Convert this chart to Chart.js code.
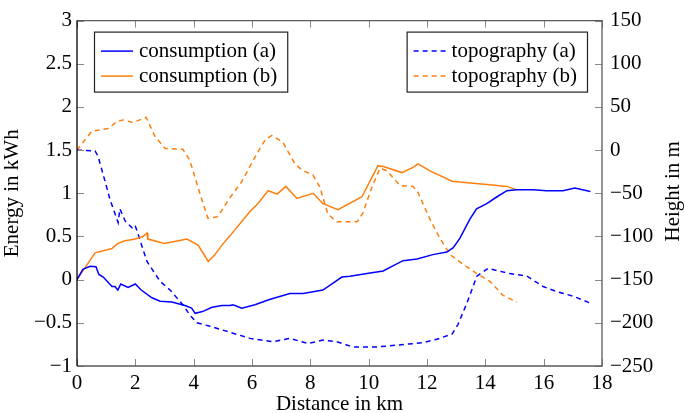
<!DOCTYPE html>
<html>
<head>
<meta charset="utf-8">
<script src="https://cdn.jsdelivr.net/npm/chart.js@4/dist/chart.umd.min.js"></script>
<style>
  html, body { margin: 0; padding: 0; background: #fff; }
  #wrap { width: 685px; height: 413px; }
</style>
</head>
<body>
<div id="wrap"><canvas id="c" width="685" height="413"></canvas></div>
<script>
// ---- data (distance in km, energy in kWh, height in m) ----
const consAX = [0, 0.2, 0.45, 0.65, 0.75, 0.9, 1.2, 1.3, 1.4, 1.5, 1.75, 2.0, 2.2, 2.57, 2.85, 3.25, 3.7, 3.93, 4.05, 4.3, 4.63, 4.97, 5.25, 5.35, 5.65, 6.1, 6.6, 7.3, 7.75, 8.43, 8.78, 9.08, 9.36, 9.94, 10.5, 10.83, 11.18, 11.66, 12.2, 12.68, 12.9, 13.13, 13.47, 13.7, 14.05, 14.4, 14.74, 15.08, 15.63, 16.1, 16.66, 17.07, 17.6];
const consAY = [0, 0.12, 0.155, 0.15, 0.06, 0.03, -0.08, -0.08, -0.12, -0.05, -0.09, -0.05, -0.12, -0.21, -0.25, -0.26, -0.30, -0.33, -0.39, -0.37, -0.32, -0.30, -0.30, -0.29, -0.33, -0.29, -0.23, -0.16, -0.16, -0.12, -0.04, 0.03, 0.04, 0.07, 0.10, 0.16, 0.22, 0.24, 0.29, 0.32, 0.37, 0.48, 0.70, 0.82, 0.88, 0.96, 1.03, 1.04, 1.04, 1.03, 1.03, 1.06, 1.02];

const consBX = [0, 0.62, 1.2, 1.4, 1.65, 2.0, 2.26, 2.4, 2.43, 3.0, 3.77, 4.15, 4.3, 4.5, 4.73, 4.97, 5.25, 5.93, 6.2, 6.55, 6.86, 7.16, 7.54, 8.1, 8.43, 8.95, 9.77, 10.32, 10.5, 11.14, 11.52, 11.69, 12.1, 12.86, 13.47, 14.16, 14.74, 15.08];
const consBY = [0, 0.31, 0.36, 0.42, 0.45, 0.47, 0.50, 0.54, 0.47, 0.42, 0.47, 0.40, 0.32, 0.21, 0.29, 0.40, 0.51, 0.79, 0.88, 1.03, 0.99, 1.08, 0.94, 1.0, 0.88, 0.81, 0.96, 1.32, 1.31, 1.24, 1.30, 1.34, 1.26, 1.14, 1.12, 1.10, 1.08, 1.04];

const topoAX = [0, 0.62, 0.72, 0.96, 1.13, 1.41, 1.47, 1.65, 1.89, 1.99, 2.09, 2.40, 2.85, 3.19, 3.63, 3.87, 4.11, 4.56, 5.25, 5.93, 6.72, 7.30, 7.92, 8.43, 8.91, 9.46, 10.28, 11.86, 12.34, 12.86, 13.06, 13.37, 13.71, 14.09, 14.84, 15.43, 15.98, 16.46, 17.0, 17.59];
const topoAY = [0, -1, -7, -36, -57, -84, -68, -82, -90, -87, -97, -129, -152, -162, -179, -191, -200, -204, -211, -218, -222, -218, -224, -220, -222, -228, -228, -223, -219, -213, -202, -177, -146, -137, -143, -146, -158, -164, -169, -177];

const topoBX = [0, 0.51, 1.06, 1.37, 1.58, 1.92, 2.37, 2.67, 3.02, 3.63, 3.87, 4.22, 4.49, 4.83, 5.18, 5.66, 6.1, 6.45, 6.68, 7.06, 7.47, 7.71, 8.09, 8.33, 8.6, 8.91, 9.6, 9.8, 10.11, 10.39, 10.63, 11.07, 11.52, 11.69, 12.1, 12.44, 12.79, 13.23, 13.71, 14.16, 14.6, 15.08];
const topoBY = [0, 22, 25, 33, 35, 32, 38, 16, 2, 1, -12, -51, -79, -77, -58, -36, -8, 12, 17, 9, -16, -23, -29, -43, -74, -83, -83, -73, -43, -21, -24, -41, -42, -49, -80, -102, -121, -132, -143, -152, -168, -176];

const seriesLabels = ['consumption (a)', 'consumption (b)', 'topography (a)', 'topography (b)'];
const xTitle = 'Distance in km';
const yTitle = 'Energy in kWh';
const y2Title = 'Height in m';

// ---- styling ----
const BLUE = 'rgb(0,0,255)';
const ORANGE = 'rgb(255,127,14)';
const FONT = 'Liberation Serif';
const DASH = [5, 4];

function pts(xs, ys) { return xs.map((x, i) => ({ x: x, y: ys[i] })); }
function minus(v) { return String(v).replace('-', '\u2212'); }

const datasets = [
  { label: seriesLabels[0], data: pts(consAX, consAY), yAxisID: 'y', borderColor: BLUE, legendBox: 0 },
  { label: seriesLabels[1], data: pts(consBX, consBY), yAxisID: 'y', borderColor: ORANGE, legendBox: 0 },
  { label: seriesLabels[2], data: pts(topoAX, topoAY), yAxisID: 'y2', borderColor: BLUE, borderDash: DASH, legendBox: 1 },
  { label: seriesLabels[3], data: pts(topoBX, topoBY), yAxisID: 'y2', borderColor: ORANGE, borderDash: DASH, legendBox: 1 }
].map(d => Object.assign({ borderWidth: 1.5, pointRadius: 0, fill: false, tension: 0 }, d));

// frame + inward ticks + two legend boxes + right axis title (reads upward)
const framePlugin = {
  id: 'frame',
  afterDraw(chart) {
    const ctx = chart.ctx;
    const a = chart.chartArea;
    const tl = 7;
    ctx.save();
    // inward ticks
    ctx.strokeStyle = '#8a8a8a';
    ctx.lineWidth = 1;
    const xs = chart.scales.x, y = chart.scales.y, y2 = chart.scales.y2;
    xs.ticks.forEach(t => {
      const px = Math.round(xs.getPixelForValue(t.value)) + 0.5;
      ctx.beginPath();
      ctx.moveTo(px, a.bottom); ctx.lineTo(px, a.bottom - tl);
      ctx.moveTo(px, a.top); ctx.lineTo(px, a.top + tl);
      ctx.stroke();
    });
    y.ticks.forEach(t => {
      const py = Math.round(y.getPixelForValue(t.value)) + 0.5;
      ctx.beginPath();
      ctx.moveTo(a.left, py); ctx.lineTo(a.left + tl, py);
      ctx.stroke();
    });
    y2.ticks.forEach(t => {
      const py = Math.round(y2.getPixelForValue(t.value)) + 0.5;
      ctx.beginPath();
      ctx.moveTo(a.right, py); ctx.lineTo(a.right - tl, py);
      ctx.stroke();
    });
    // frame
    ctx.lineWidth = 1.3;
    ctx.strokeStyle = '#5a5a5a';
    ctx.beginPath();
    ctx.moveTo(a.left, a.top); ctx.lineTo(a.right, a.top);
    ctx.lineTo(a.right, a.bottom); ctx.lineTo(a.left, a.bottom);
    ctx.stroke();
    ctx.strokeStyle = '#000';
    ctx.beginPath();
    ctx.moveTo(a.left, a.top); ctx.lineTo(a.left, a.bottom);
    ctx.stroke();

    // right axis title, rotated to read bottom-to-top
    ctx.font = '21px "' + FONT + '"';
    ctx.fillStyle = '#000';
    ctx.save();
    ctx.translate(y2.right - 12, (a.top + a.bottom) / 2 - 2);
    ctx.rotate(-Math.PI / 2);
    ctx.textAlign = 'center';
    ctx.textBaseline = 'middle';
    ctx.fillText(y2Title, 0, 0);
    ctx.restore();

    // legends
    ctx.textBaseline = 'middle';
    ctx.textAlign = 'left';
    const rowH = 25, padT = 6, sample = 32;
    const boxes = [0, 1].map(b => chart.data.datasets.filter(d => d.legendBox === b));
    boxes.forEach((items, b) => {
      const tw = Math.max(...items.map(d => ctx.measureText(d.label).width));
      const w = 7 + sample + 6 + tw + 10;
      const h = padT * 2 + rowH * items.length - 2;
      const left = b === 0 ? a.left + 17 : a.right - 15 - w;
      const top = a.top + 11;
      ctx.fillStyle = '#fff';
      ctx.fillRect(left, top, w, h);
      ctx.strokeStyle = '#222';
      ctx.lineWidth = 1.2;
      ctx.setLineDash([]);
      ctx.strokeRect(left + 0.5, top + 0.5, w, h);
      items.forEach((d, i) => {
        const cy = top + padT + rowH * i + rowH / 2 + 1;
        ctx.strokeStyle = d.borderColor;
        ctx.lineWidth = 1.5;
        ctx.setLineDash(d.borderDash || []);
        ctx.beginPath();
        ctx.moveTo(left + 7, cy); ctx.lineTo(left + 7 + sample, cy);
        ctx.stroke();
        ctx.setLineDash([]);
        ctx.fillStyle = '#000';
        ctx.fillText(d.label, left + 7 + sample + 6, cy);
      });
    });
    ctx.restore();
  }
};

Chart.defaults.font.family = FONT;
Chart.defaults.font.size = 21;
Chart.defaults.color = '#000';

new Chart(document.getElementById('c'), {
  type: 'line',
  data: { datasets: datasets },
  options: {
    responsive: false,
    animation: false,
    layout: { padding: { top: 6, left: 0, right: 0, bottom: 0 } },
    plugins: { legend: { display: false }, tooltip: { enabled: false } },
    scales: {
      x: {
        type: 'linear', position: 'bottom', min: 0, max: 18,
        grid: { display: false, drawTicks: false }, border: { display: false },
        ticks: { stepSize: 2, padding: 5, maxRotation: 0, callback: v => minus(v) },
        title: { display: true, text: xTitle, padding: { top: 0, bottom: -4 } },
        afterFit: s => { s.height = 47; }
      },
      y: {
        type: 'linear', position: 'left', min: -1, max: 3,
        grid: { display: false, drawTicks: false }, border: { display: false },
        ticks: { stepSize: 0.5, padding: 5, callback: v => minus(v) },
        title: { display: true, text: yTitle, padding: { top: 0, bottom: 0 } },
        afterFit: s => { s.width = 77; }
      },
      y2: {
        type: 'linear', position: 'right', min: -250, max: 150,
        grid: { display: false, drawTicks: false }, border: { display: false },
        ticks: { stepSize: 50, padding: 8, callback: v => minus(v) },
        title: { display: false, text: y2Title },
        afterFit: s => { s.width = 83; }
      }
    }
  },
  plugins: [framePlugin]
});
</script>
</body>
</html>
